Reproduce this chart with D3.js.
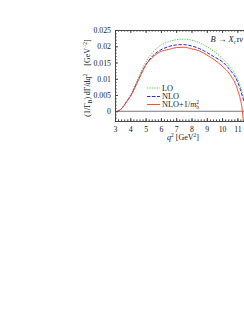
<!DOCTYPE html>
<html>
<head>
<meta charset="utf-8">
<script src="https://d3js.org/d3.v7.min.js"></script>
<style>
  body { margin: 0; background: #fff; }
  text { font-family: 'Liberation Serif', 'DejaVu Serif', serif; fill: #222; }
  .axis path { stroke: #444; }
  .axis line { stroke: #444; }
</style>
</head>
<body>
<div id="chart"></div>
<script>
// q^2 grid in GeV^2 and the three spectra
var q2     = [3.16, 3.3, 3.5, 3.75, 4, 4.5, 5, 5.5, 6, 6.5, 7, 7.5, 8, 8.5, 9, 9.5, 10, 10.5, 11, 11.2, 11.3, 11.4, 11.5];
var lo     = [0, 0.0003, 0.0013, 0.0030, 0.0049, 0.0100, 0.0150, 0.0183, 0.0203, 0.0214, 0.0220, 0.0222, 0.0219, 0.0211, 0.0199, 0.0183, 0.0163, 0.0137, 0.0100, 0.0076, 0.0061, 0.0045, 0.0030];
var nlo    = [0, 0.0003, 0.0012, 0.0029, 0.0046, 0.0094, 0.0142, 0.0172, 0.0189, 0.0199, 0.0204, 0.0205, 0.0201, 0.0193, 0.0181, 0.0167, 0.0153, 0.0128, 0.0092, 0.0066, 0.0050, 0.0035, 0.0020];
var nloMb  = [0, 0.0003, 0.0012, 0.0028, 0.0045, 0.0093, 0.0141, 0.0168, 0.0184, 0.0190, 0.0196, 0.0197, 0.0192, 0.0186, 0.0173, 0.0158, 0.0139, 0.0114, 0.0068, 0.0035, 0.0010, -0.0040, -0.0120];

var xTicks = [3, 4, 5, 6, 7, 8, 9, 10, 11];
var yTicks = [0, 0.005, 0.01, 0.015, 0.02, 0.025];
var yLabels = ["0", "0.005", "0.01", "0.015", "0.02", "0.025"];

var W = 244, H = 316;
var plotLeft = 115, plotTop = 30, plotBottom = 121;

var svg = d3.select("#chart").append("svg")
  .attr("width", W).attr("height", H);

var x = d3.scaleLinear().domain([3, 11.5]).range([plotLeft, plotLeft + 8.5 * 15.3]);
var y = d3.scaleLinear().domain([-0.003, 0.025]).range([plotBottom, plotTop]);

svg.append("clipPath").attr("id", "clip")
  .append("rect").attr("x", plotLeft).attr("y", plotTop)
  .attr("width", x(11.5) - plotLeft).attr("height", plotBottom - plotTop);

// zero line
svg.append("line")
  .attr("x1", plotLeft).attr("x2", x(11.5))
  .attr("y1", y(0)).attr("y2", y(0))
  .attr("stroke", "#777").attr("stroke-width", 1);

// curves
var series = [
  { vals: lo,    color: "#4fc44f", dash: "1.2,1.3", name: "LO" },
  { vals: nlo,   color: "#2b2bea", dash: "3.5,1.5", name: "NLO" },
  { vals: nloMb, color: "#ff4f2e", dash: null,      name: "NLO+1/m" }
];

var line = d3.line()
  .x(function(d) { return x(d[0]); })
  .y(function(d) { return y(d[1]); })
  .curve(d3.curveMonotoneX);

var g = svg.append("g").attr("clip-path", "url(#clip)");
series.forEach(function(s) {
  g.append("path")
    .datum(q2.map(function(v, i) { return [v, s.vals[i]]; }))
    .attr("d", line)
    .attr("fill", "none")
    .attr("stroke", s.color)
    .attr("stroke-width", 1)
    .attr("stroke-dasharray", s.dash);
});

// axes: major and minor ticks pointing inward
var xMinor = d3.range(3, 11.6, 0.2);
var yMinor = d3.range(-0.003, 0.0251, 0.001);

function fmtY(d) { var i = yTicks.indexOf(d); return i < 0 ? "" : yLabels[i]; }

svg.append("g").attr("class", "axis").attr("transform", "translate(0," + plotBottom + ")")
  .call(d3.axisBottom(x).tickValues(xTicks).tickSizeInner(-3).tickSizeOuter(0).tickPadding(5).tickFormat(d3.format("d")));
svg.append("g").attr("class", "axis").attr("transform", "translate(0," + plotBottom + ")")
  .call(d3.axisBottom(x).tickValues(xMinor).tickSizeInner(-1.6).tickSizeOuter(0).tickFormat(""));
svg.append("g").attr("class", "axis").attr("transform", "translate(0," + plotTop + ")")
  .call(d3.axisTop(x).tickValues(xTicks).tickSizeInner(-3).tickSizeOuter(0).tickFormat(""));
svg.append("g").attr("class", "axis").attr("transform", "translate(0," + plotTop + ")")
  .call(d3.axisTop(x).tickValues(xMinor).tickSizeInner(-1.6).tickSizeOuter(0).tickFormat(""));
svg.append("g").attr("class", "axis").attr("transform", "translate(" + plotLeft + ",0)")
  .call(d3.axisLeft(y).tickValues(yTicks).tickSizeInner(-3).tickSizeOuter(0).tickPadding(4).tickFormat(fmtY));
svg.append("g").attr("class", "axis").attr("transform", "translate(" + plotLeft + ",0)")
  .call(d3.axisLeft(y).tickValues(yMinor).tickSizeInner(-1.6).tickSizeOuter(0).tickFormat(""));

svg.selectAll(".axis text").style("font-size", "7.8px").attr("fill", "#222");
svg.selectAll(".axis .domain").attr("stroke-width", 0.8);

// axis titles
var xt = svg.append("text").attr("x", 183).attr("y", 140)
  .attr("text-anchor", "middle").style("font-size", "8px");
xt.append("tspan").style("font-style", "italic").text("q");
xt.append("tspan").attr("dy", -3).style("font-size", "5.5px").text("2");
xt.append("tspan").attr("dy", 3).text(" [GeV");
xt.append("tspan").attr("dy", -3).style("font-size", "5.5px").text("2");
xt.append("tspan").attr("dy", 3).text("]");

var yt = svg.append("text")
  .attr("transform", "translate(90,78) rotate(-90)")
  .attr("text-anchor", "middle").style("font-size", "8px");
yt.append("tspan").text("(1/\u0393");
yt.append("tspan").attr("dy", 1.5).style("font-size", "5.5px").text("B");
yt.append("tspan").attr("dy", -1.5).text(")\u2009d\u0393/d");
yt.append("tspan").style("font-style", "italic").text("q");
yt.append("tspan").attr("dy", -3).style("font-size", "5.5px").text("2");
yt.append("tspan").attr("dy", 3).text("\u2003[GeV");
yt.append("tspan").attr("dy", -3).style("font-size", "5.5px").text("\u22122");
yt.append("tspan").attr("dy", 3).text("]");

// process label
var pl = svg.append("text").attr("x", 243).attr("y", 42)
  .attr("text-anchor", "end").style("font-size", "8.5px");
pl.append("tspan").style("font-style", "italic").text("B");
pl.append("tspan").text(" \u2192 ");
pl.append("tspan").style("font-style", "italic").text("X");
pl.append("tspan").attr("dy", 1.5).style("font-size", "5.5px").style("font-style", "italic").text("c");
pl.append("tspan").attr("dy", -1.5).style("font-style", "italic").text("\u03c4\u03bd");

// legend
var legY = [88, 96.5, 104.5];
series.forEach(function(s, i) {
  svg.append("line")
    .attr("x1", 147).attr("x2", 160)
    .attr("y1", legY[i]).attr("y2", legY[i])
    .attr("stroke", s.color).attr("stroke-width", 1)
    .attr("stroke-dasharray", s.dash);
  var t = svg.append("text").attr("x", 162).attr("y", legY[i] + 2.8)
    .style("font-size", "8.3px");
  if (i < 2) {
    t.text(s.name);
  } else {
    t.append("tspan").text("NLO+1/");
    t.append("tspan").style("font-style", "italic").text("m");
    t.append("tspan").attr("dy", -3).style("font-size", "5.5px").text("2");
    t.append("tspan").attr("dx", -2.8).attr("dy", 4.5).style("font-size", "5.5px").text("b");
  }
});
</script>
</body>
</html>
